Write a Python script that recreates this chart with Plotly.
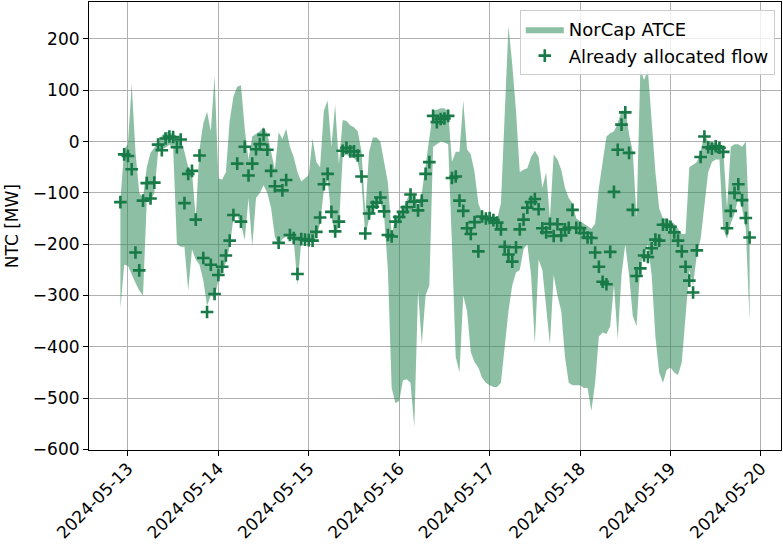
import pandas as pd
import plotly.graph_objects as go

# hourly timestamps, 2024-05-12 22:00 .. 2024-05-19 21:00
hours = pd.date_range("2024-05-12 22:00", periods=168, freq="h")

allocated = [
    -118, -25, -28, -54, -216, -251, -115, -81, -111, -80, -6, -17, 6, 10, 9, -11, 4, -120, -63, -57, -152, -27, -227, -332,
    -240, -297, -260, -244, -222, -193, -143, -43, -156, -10, -66, -43, -15, -5, 13, -16, -57, -87, -197, -95, -75, -182, -188, -258,
    -190, -191, -192, -193, -176, -148, -83, -63, -137, -175, -156, -18, -12, -19, -19, -27, -68, -179, -140, -127, -119, -109, -136, -182,
    -185, -156, -147, -137, -128, -103, -117, -134, -115, -63, -40, 50, 38, 44, 45, 50, -71, -68, -115, -135, -169, -180, -157, -214,
    -146, -150, -149, -153, -158, -171, -205, -220, -234, -206, -171, -152, -129, -118, -112, -132, -169, -177, -160, -184, -161, -183, -171, -168,
    -133, -168, -169, -178, -187, -188, -216, -244, -273, -278, -215, -98, -16, 33, 57, -22, -133, -262, -247, -222, -225, -208, -191, -193,
    -162, -162, -166, -177, -193, -214, -244, -271, -294, -212, -30, 10, -11, -14, -9, -12, -20, -169, -135, -100, -83, -114, -149, -187,
]

atce_upper = [
    -115, -15, -5, 112, -20, -100, -110, -50, -22, -12, -3, 12, 18, 18, 14, 6, 4, -20, -50, -60, -148, -15, 35, 58,
    20, 128, -72, -74, -60, 40, 88, 107, 110, 25, -35, 10, 15, 20, 28, 15, -20, -55, 18, 5, 25, -10, -30, -60,
    -78, -72, -65, 6, -40, -50, 60, 80, -10, 72, -45, 42, 40, 32, 28, 20, -20, -140, -20, 8, 8, 0, -40, -80,
    -180, -150, -140, -130, -115, -95, -110, -125, -100, -50, 0, 60, 62, 65, 65, 58, -40, -20, -20, 80, -15, -25, -60, -120,
    -140, -150, -145, -148, -150, -120, 60, 225, 150, 60, -60, -55, -52, -30, -18, -30, -90, -60, -150, -25, -35, -55, -90, -110,
    -120, -150, -155, -160, -165, -170, -160, -90, -40, 10, 16, 20, 35, 60, 60, 15, -20, -150, 140, 120, 140, 40, -60, -130,
    -150, -150, -155, -160, -170, -180, -180, -50, -45, -40, -20, 15, 0, 0, -5, -3, -15, -130, -10, -5, -5, -10, 0, -185,
]

atce_lower = [
    -325, -240, -242, -260, -275, -290, -300, -116, -116, -100, -20, -14, -12, -6, -12, -200, -205, -205, -290, -210, -230, -240, -270, -320,
    -300, -305, -270, -255, -235, -205, -150, -145, -160, -192, -110, -204, -110, -100, -85, -100, -130, -185, -205, -190, -185, -190, -192, -280,
    -196, -196, -196, -196, -185, -160, -95, -75, -145, -182, -165, -30, -25, -30, -32, -40, -80, -185, -150, -135, -128, -118, -145, -250,
    -480, -510, -505, -465, -463, -470, -556, -290, -395, -300, -280, -10, -5, 0, -2, -5, -200, -420, -450, -300, -330, -410, -430, -440,
    -460, -470, -475, -478, -478, -470, -400, -330, -280, -255, -250, -210, -200, -260, -395, -230, -250, -330, -395, -260, -300, -330, -420, -470,
    -475, -475, -475, -480, -480, -525, -470, -380, -372, -375, -360, -280, -385, -260, -200, -260, -340, -360, -240, -220, -200, -260, -380, -450,
    -470, -445, -440, -450, -455, -430, -340, -250, -280, -220, -190, -120, -60, -40, -35, -35, -170, -190, -160, -140, -110, -130, -170, -350,
]

band_color = "rgba(46,139,87,0.55)"
marker_color = "#177a47"
fsize = 17

fig = go.Figure()

# lower edge of the ATCE band (invisible line)
fig.add_trace(go.Scatter(
    x=hours, y=atce_lower,
    mode="lines", line=dict(width=0, color="rgba(0,0,0,0)"),
    showlegend=False, hoverinfo="skip",
))

# upper edge, filled down to the lower edge
fig.add_trace(go.Scatter(
    x=hours, y=atce_upper,
    mode="lines", line=dict(width=0, color=band_color),
    fill="tonexty", fillcolor=band_color,
    name="NorCap ATCE",
))

fig.add_trace(go.Scatter(
    x=hours, y=allocated,
    mode="markers",
    marker=dict(symbol="cross-thin", size=9, line=dict(width=2.6, color=marker_color), color=marker_color),
    name="Already allocated flow",
))

tick_days = pd.date_range("2024-05-13", "2024-05-20", freq="D")

fig.update_layout(
    width=783, height=547,
    margin=dict(l=89, r=2, t=2, b=97),
    paper_bgcolor="white", plot_bgcolor="white",
    font=dict(family="DejaVu Sans", size=fsize, color="black"),
    showlegend=True,
    legend=dict(
        x=0.991, y=0.982, xanchor="right", yanchor="top",
        traceorder="normal",
        bgcolor="rgba(255,255,255,0.8)", bordercolor="#cccccc", borderwidth=1,
        font=dict(family="DejaVu Sans", size=18),
        itemwidth=38, tracegroupgap=0,
    ),
    annotations=[dict(
        text="NTC [MW]", textangle=-90,
        xref="paper", yref="paper", x=-0.111, y=0.5,
        xanchor="center", yanchor="middle", showarrow=False,
        font=dict(family="DejaVu Sans", size=fsize),
    )],
)

fig.update_xaxes(
    type="date", automargin=False,
    range=["2024-05-12 13:40", "2024-05-20 05:20"],
    tickvals=tick_days, tickformat="%Y-%m-%d", tickangle=-45,
    ticklabelstandoff=-4,
    ticks="outside", ticklen=5, tickwidth=1, tickcolor="black",
    showline=True, linecolor="black", linewidth=1.1, mirror=True,
    showgrid=True, gridcolor="#b0b0b0", gridwidth=1.1,
    zeroline=False,
)

fig.update_yaxes(
    automargin=False,
    range=[-601, 272],
    tickvals=list(range(-600, 201, 100)),
    ticks="outside", ticklen=5, tickwidth=1, tickcolor="black",
    showline=True, linecolor="black", linewidth=1.1, mirror=True,
    showgrid=True, gridcolor="#b0b0b0", gridwidth=1.1,
    zeroline=False,
)

# drop the page's default body margin so the figure sits at the window origin
fig.write_html(
    "out.html",
    config={"displayModeBar": False},
    post_script="document.body.style.margin='0';",
)
